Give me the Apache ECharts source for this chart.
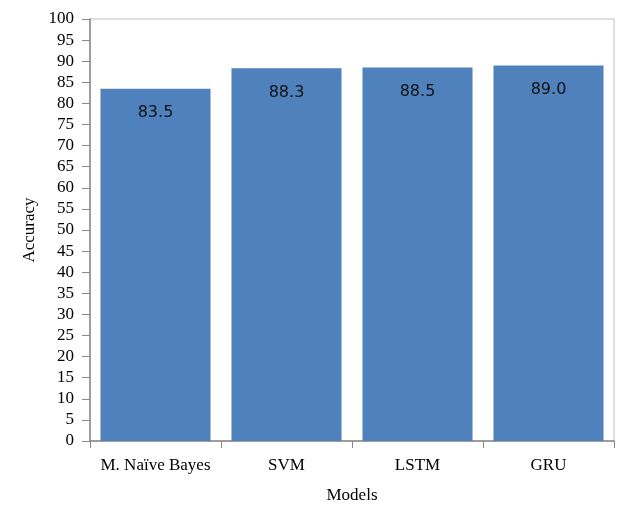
<!DOCTYPE html>
<html>
<head>
<meta charset="utf-8">
<script src="https://cdn.jsdelivr.net/npm/echarts@6/dist/echarts.min.js"></script>
<style>
  html, body { margin: 0; padding: 0; background: #fff; }
  #main { width: 627px; height: 507px; }
</style>
</head>
<body>
<div id="main"></div>
<script>
var categories = ['M. Naïve Bayes', 'SVM', 'LSTM', 'GRU'];
var accuracy = [83.5, 88.3, 88.5, 89.0];

var chart = echarts.init(document.getElementById('main'));
var serif = 'Liberation Serif';
var option = {
    animation: false,
    grid: {
        left: 90, right: 13, top: 19, bottom: 66,
        outerBoundsMode: 'none',
        show: true, borderColor: '#bfbfbf', borderWidth: 1
    },
    xAxis: {
        type: 'category',
        data: categories,
        name: 'Models',
        nameLocation: 'middle',
        nameGap: 46,
        nameTextStyle: { fontFamily: serif, fontSize: 17, color: '#000' },
        axisLine: { lineStyle: { color: '#888', width: 1.5 } },
        axisTick: { show: true, length: 7, lineStyle: { color: '#888' } },
        axisLabel: { interval: 0, fontFamily: serif, fontSize: 17, color: '#000', margin: 16 }
    },
    yAxis: {
        type: 'value',
        min: 0,
        max: 100,
        interval: 5,
        name: 'Accuracy',
        nameLocation: 'middle',
        nameGap: 52,
        nameRotate: 90,
        nameTextStyle: { fontFamily: serif, fontSize: 17, color: '#000' },
        splitLine: { show: false },
        axisLine: { show: true, lineStyle: { color: '#888', width: 1.5 } },
        axisTick: { show: true, length: 8, lineStyle: { color: '#888' } },
        axisLabel: { fontFamily: serif, fontSize: 17, color: '#000', margin: 16 }
    },
    series: [{
        type: 'bar',
        data: accuracy,
        barCategoryGap: '16%',
        itemStyle: { color: '#4f81bd' },
        label: {
            show: true,
            position: 'insideTop',
            distance: 16,
            fontFamily: 'DejaVu Sans',
            fontSize: 16,
            color: '#111',
            formatter: function (p) { return p.value.toFixed(1); }
        }
    }]
};
chart.setOption(option);
</script>
</body>
</html>
